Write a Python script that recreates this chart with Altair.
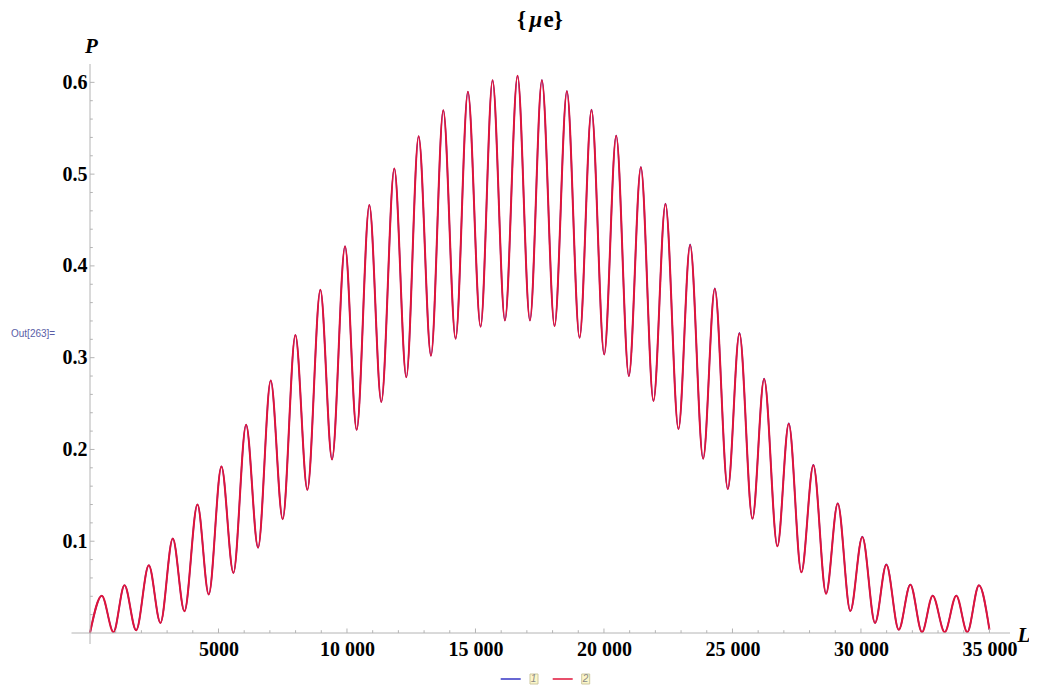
import altair as alt
import pandas as pd

# ---- data (extrema of the oscillation curves) ----
L_VALUES = [0, 460, 914, 1342, 1796, 2288, 2742, 3221, 3675, 4181,
            4621, 5114, 5581, 6074, 6541, 7032, 7498, 7992, 8459, 8964,
            9418, 9924, 10377, 10870, 11336, 11842, 12309, 12788, 13269, 13748,
            14226, 14706, 15199, 15665, 16147, 16637, 17119, 17585, 18077, 18558,
            19050, 19515, 20009, 20476, 20969, 21436, 21926, 22393, 22899, 23353,
            23859, 24313, 24819, 25271, 25777, 26232, 26749, 27191, 27682, 28149,
            28643, 29097, 29587, 30054, 30548, 30988, 31471, 31922, 32376, 32792,
            33259, 33710, 34138, 34593, 35000]

P_SERIES_2 = [0.0, 0.0407, 0.001, 0.052, 0.003, 0.0738, 0.011, 0.103, 0.0236, 0.140,
              0.042, 0.1814, 0.0655, 0.227, 0.093, 0.275, 0.124, 0.3247, 0.156, 0.374,
              0.189, 0.4214, 0.2214, 0.4663, 0.2517, 0.506, 0.2787, 0.5414, 0.3022, 0.5697,
              0.3207, 0.5898, 0.3337, 0.6024, 0.3406, 0.6072, 0.3406, 0.6024, 0.3345, 0.5903,
              0.3216, 0.570, 0.3034, 0.5417, 0.280, 0.5075, 0.2529, 0.4675, 0.2222, 0.4229,
              0.190, 0.375, 0.1568, 0.3264, 0.1244, 0.2768, 0.0945, 0.228, 0.0661, 0.1828,
              0.0429, 0.141, 0.024, 0.1047, 0.0109, 0.0745, 0.0036, 0.0527, 0.001, 0.0407,
              0.001, 0.0407, 0.001, 0.052, 0.0036]

P_SERIES_1 = [0.0, 0.0407, 0.001, 0.052, 0.003, 0.0738, 0.011, 0.103, 0.0236, 0.140,
              0.042, 0.1814, 0.0655, 0.227, 0.093, 0.275, 0.124, 0.3247, 0.156, 0.374,
              0.189, 0.4214, 0.2214, 0.4663, 0.2517, 0.506, 0.2787, 0.5414, 0.3022, 0.5697,
              0.3207, 0.5898, 0.3337, 0.6024, 0.3406, 0.6072, 0.3406, 0.6026, 0.3345, 0.5906,
              0.3216, 0.5703, 0.3034, 0.5421, 0.280, 0.5079, 0.2529, 0.4680, 0.2222, 0.4235,
              0.190, 0.3757, 0.1568, 0.3271, 0.1244, 0.2774, 0.0945, 0.2286, 0.0661, 0.1834,
              0.0429, 0.1415, 0.024, 0.1051, 0.0109, 0.0748, 0.0036, 0.0529, 0.001, 0.0408,
              0.001, 0.0408, 0.001, 0.0521, 0.0036]

SERIES_NAMES = ["1", "2"]

X_LABEL_TICKS = [5000, 10000, 15000, 20000, 25000, 30000, 35000]
X_MINOR_TICKS = [1000, 2000, 3000, 4000, 6000, 7000, 8000, 9000, 11000, 12000,
                 13000, 14000, 16000, 17000, 18000, 19000, 21000, 22000, 23000, 24000,
                 26000, 27000, 28000, 29000, 31000, 32000, 33000, 34000]
Y_LABEL_TICKS = [0.1, 0.2, 0.3, 0.4, 0.5, 0.6]
Y_MINOR_TICKS = [0.02, 0.04, 0.06, 0.08, 0.12, 0.14, 0.16, 0.18, 0.22, 0.24,
                 0.26, 0.28, 0.32, 0.34, 0.36, 0.38, 0.42, 0.44, 0.46, 0.48,
                 0.52, 0.54, 0.56, 0.58]

BLUE = "#3434c4"
RED = "#e0143a"
AXIS_GRAY = "#b4b4b4"
SERIF = "Liberation Serif"

W, H = 920, 569
xs = alt.Scale(domain=[0, 35800], nice=False, zero=False)
ys = alt.Scale(domain=[0, 0.62], nice=False, zero=False)

x_axis = alt.Axis(
    title=None, values=X_LABEL_TICKS, domain=False, ticks=False, grid=False,
    labelExpr="datum.value >= 10000 ? format(floor(datum.value/1000), 'd') + ' 000' : format(datum.value, 'd')",
    labelFont=SERIF, labelFontWeight="bold", labelFontSize=20, labelColor="black",
    labelPadding=6, labelAngle=0, labelOverlap=False, labelFlush=False)
y_axis = alt.Axis(
    title=None, values=Y_LABEL_TICKS, format=".1f", domain=False, ticks=False, grid=False,
    labelFont=SERIF, labelFontWeight="bold", labelFontSize=20, labelColor="black",
    labelPadding=3, labelOverlap=False, labelFlush=False)

color_scale = alt.Scale(domain=SERIES_NAMES, range=[BLUE, RED])
legend = alt.Legend(title=None, orient="none", legendX=409.7, legendY=604,
                    direction="horizontal", symbolType="stroke",
                    symbolSize=400, symbolStrokeWidth=1.5,
                    labelFontStyle="italic", labelFontSize=10,
                    labelFont="Liberation Sans", labelColor="#8a8a8a",
                    labelOffset=9, columnPadding=13, padding=0)

n = len(L_VALUES)
df1 = pd.DataFrame({"L": L_VALUES, "P": P_SERIES_1, "s": [SERIES_NAMES[0]] * n})
df2 = pd.DataFrame({"L": L_VALUES, "P": P_SERIES_2, "s": [SERIES_NAMES[1]] * n})

one = pd.DataFrame({"a": [0]})


def curve(d, sw):
    return alt.Chart(d).mark_line(strokeWidth=sw, interpolate="monotone").encode(
        x=alt.X("L:Q", scale=xs, axis=x_axis),
        y=alt.Y("P:Q", scale=ys, axis=y_axis),
        color=alt.Color("s:N", scale=color_scale, legend=legend),
    )


line_blue = curve(df1, 1.5)
line_red = curve(df2, 2.0)

# axis lines (Mathematica-style crossing axes)
x_axis_line = alt.Chart(one).mark_rule(color=AXIS_GRAY, strokeWidth=1).encode(
    x=alt.value(-18.5), x2=alt.value(W), y=alt.value(H))
y_axis_line = alt.Chart(one).mark_rule(color=AXIS_GRAY, strokeWidth=1).encode(
    x=alt.value(0), y=alt.value(0), y2=alt.value(H + 11))

# inward ticks
x_major = alt.Chart(pd.DataFrame({"L": X_LABEL_TICKS})).mark_rule(color=AXIS_GRAY).encode(
    x=alt.X("L:Q", scale=xs, axis=x_axis), y=alt.value(H), y2=alt.value(H - 4.5))
x_minor = alt.Chart(pd.DataFrame({"L": X_MINOR_TICKS})).mark_rule(color=AXIS_GRAY).encode(
    x=alt.X("L:Q", scale=xs, axis=x_axis), y=alt.value(H), y2=alt.value(H - 2.8))
y_major = alt.Chart(pd.DataFrame({"P": Y_LABEL_TICKS})).mark_rule(color=AXIS_GRAY).encode(
    y=alt.Y("P:Q", scale=ys, axis=y_axis), x=alt.value(0), x2=alt.value(4.5))
y_minor = alt.Chart(pd.DataFrame({"P": Y_MINOR_TICKS})).mark_rule(color=AXIS_GRAY).encode(
    y=alt.Y("P:Q", scale=ys, axis=y_axis), x=alt.value(0), x2=alt.value(2.8))

# title {μe}
t1 = alt.Chart(one).mark_text(text="{", font=SERIF, fontWeight="bold", fontSize=23,
                              align="right", baseline="alphabetic", color="black").encode(
    x=alt.value(436), y=alt.value(-37))
t2 = alt.Chart(one).mark_text(text="μ", font=SERIF, fontWeight="bold", fontStyle="italic",
                              fontSize=23, align="center", baseline="alphabetic",
                              color="black").encode(x=alt.value(446), y=alt.value(-37))
t3 = alt.Chart(one).mark_text(text="e}", font=SERIF, fontWeight="bold", fontSize=23,
                              align="left", baseline="alphabetic", color="black").encode(
    x=alt.value(453.5), y=alt.value(-37))

p_lab = alt.Chart(one).mark_text(text="P", font=SERIF, fontWeight="bold", fontStyle="italic",
                                 fontSize=21, align="center", baseline="alphabetic",
                                 color="black").encode(x=alt.value(1.5), y=alt.value(-11))
l_lab = alt.Chart(one).mark_text(text="L", font=SERIF, fontWeight="bold", fontStyle="italic",
                                 fontSize=21, align="center", baseline="alphabetic",
                                 color="black").encode(x=alt.value(934), y=alt.value(578))
out_lab = alt.Chart(one).mark_text(text="Out[263]=", font="Liberation Sans", fontSize=10,
                                   align="left", baseline="middle", color="#5a5ea6").encode(
    x=alt.value(-79), y=alt.value(270))

# legend label boxes
box1 = alt.Chart(one).mark_rect(fill="#fcf6c8", stroke="#cdc8a0", strokeWidth=1).encode(
    x=alt.value(440), x2=alt.value(448), y=alt.value(610), y2=alt.value(620))
box2 = alt.Chart(one).mark_rect(fill="#fcf6c8", stroke="#cdc8a0", strokeWidth=1).encode(
    x=alt.value(491.7), x2=alt.value(499.7), y=alt.value(610), y2=alt.value(620))

chart = alt.layer(
    line_blue, line_red,
    x_axis_line, y_axis_line, x_major, x_minor, y_major, y_minor,
    box1, box2, t1, t2, t3, p_lab, l_lab, out_lab,
).properties(
    width=W, height=H,
    autosize=alt.AutoSizeParams(type="none"),
    padding={"left": 82, "top": 56, "right": 19, "bottom": 52},
    background="white",
).configure_view(stroke=None)

chart.save("out.html", embed_options={"renderer": "svg", "actions": False})
